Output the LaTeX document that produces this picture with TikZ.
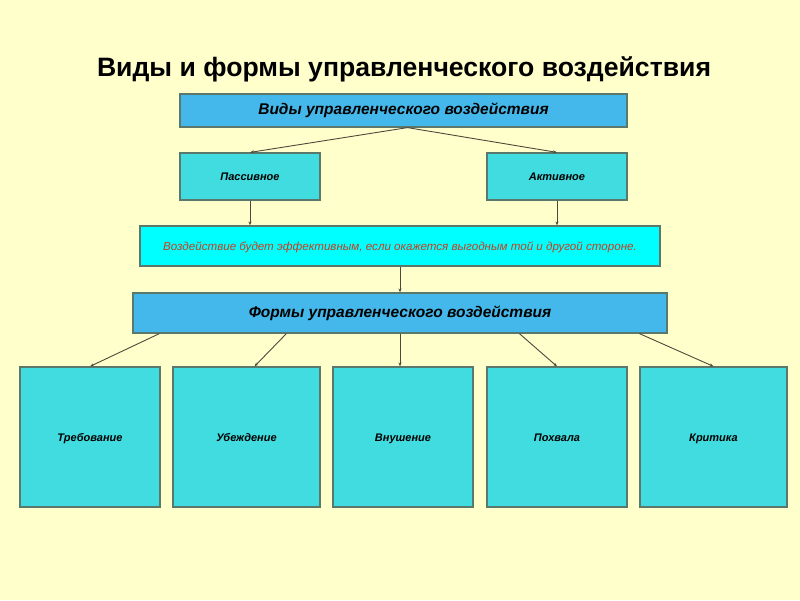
\documentclass[tikz,border=0pt]{standalone}
\usepackage{fontspec}
\setmainfont{Liberation Sans}
\usepackage{tikz}
\usetikzlibrary{positioning}
\usetikzlibrary{arrows.meta}
\definecolor{paper}{RGB}{255,255,204}
\definecolor{skyblue}{RGB}{68,184,234}
\definecolor{turq}{RGB}{64,220,224}
\definecolor{aqua}{RGB}{0,255,255}
\definecolor{rim}{RGB}{90,120,108}
\definecolor{wire}{RGB}{80,72,60}
\definecolor{warn}{RGB}{204,60,30}

\begin{document}
\begin{tikzpicture}[x=1pt,y=-1pt,
box/.style ={draw=rim, line width=1.2pt, inner sep=0pt, align=center, text height=0.85em, text depth=0pt},
head/.style ={box, fill=skyblue, font=\fontsize{15.5}{17}\selectfont\bfseries\itshape},
kind/.style ={box, fill=turq, minimum width=140pt, minimum height=47pt, font=\fontsize{11}{12}\selectfont\bfseries\itshape},
form/.style ={box, fill=turq, minimum height=140pt, font=\fontsize{11}{12}\selectfont\bfseries\itshape},
link/.style ={draw=wire, line width=0.9pt, -{Stealth[length=4pt,width=3pt]}}]
\fill[paper] (0,0) rectangle (800,600);
\useasboundingbox (0,0) rectangle (800,600);
\node[font=\fontsize{26.6}{28}\selectfont\bfseries] (title) at (404,69) {Виды и формы управленческого воздействия};
%\draw[help lines] (0,0) grid (800,600);
\node[head, minimum width=447pt, minimum height=33pt] (vid) at (403.5,110.5) {Виды управленческого воздействия};
\node[kind] (pas) at (250,176.5) {Пассивное};
\node[kind] (akt) at (557,176.5) {Активное};
\node[box, fill=aqua, minimum width=520pt, minimum height=40pt, text=warn, font=\fontsize{11.6}{13}\selectfont\itshape] (eff) at (400,246) {Воздействие будет эффективным, если окажется выгодным той и другой стороне.};
\node[head, minimum width=534pt, minimum height=40pt] (frm) at (400,313) {Формы управленческого воздействия};
\node[form, minimum width=140pt] (treb) at (90,437) {Требование};
\node[form, minimum width=147pt] (ubezh) at (246.5,437) {Убеждение};
\node[form, minimum width=140pt] (vnush) at (403,437) {Внушение};
\node[form, minimum width=140pt] (pohv) at (557,437) {Похвала};
\node[form, minimum width=147pt] (krit) at (713.5,437) {Критика};
\draw[link] ([xshift=4pt]vid.south) -- (pas.north);
\draw[link] ([xshift=4pt]vid.south) -- (akt.north);
\draw[link] (pas.south) -- (pas.south |- eff.north);
\draw[link] (akt.south) -- (akt.south |- eff.north);
\draw[link] (eff.south) -- (frm.north);
\draw[link] ([xshift=27pt]frm.south west) -- (treb.north);
\draw[link] ([xshift=154pt]frm.south west) -- ([xshift=8pt]ubezh.north);
\draw[link] (frm.south) -- (frm.south |- vnush.north);
\draw[link] ([xshift=387pt]frm.south west) -- (pohv.north);
\draw[link] ([xshift=507pt]frm.south west) -- (krit.north);
\end{tikzpicture}
\end{document}
